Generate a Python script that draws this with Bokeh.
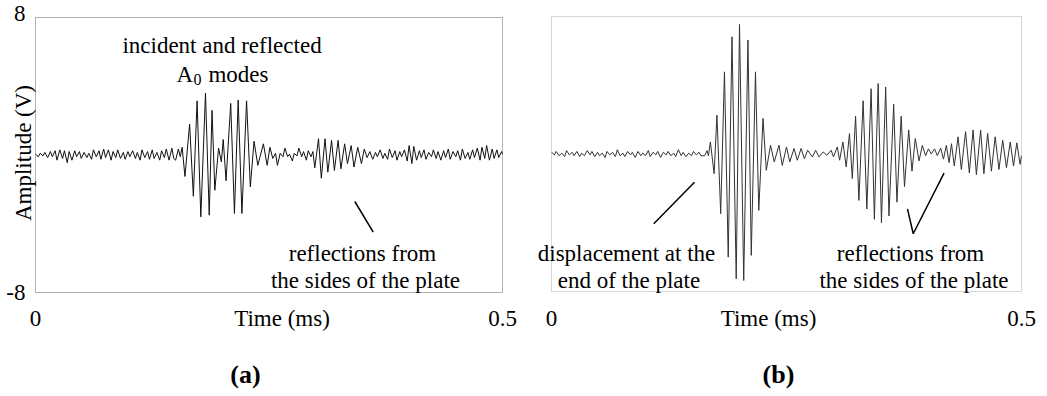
import math
from bokeh.plotting import figure
from bokeh.models import Range1d, Label, BoxAnnotation
from bokeh.layouts import row
from bokeh.embed import file_html
from bokeh.resources import INLINE

# ---------------- data (time in ms, amplitude in V) ----------------
x_ticks = [0, 0.5]
x_tick_labels = ["0", "0.5"]
y_ticks = [-8, 8]
y_tick_labels = ["-8", "8"]

# (a) incident and reflected A0 modes
trace_a = [
    (0.000, 0.05), (0.003, -0.10), (0.005, 0.10), (0.008, -0.05), (0.010, 0.15), (0.013, -0.15),
    (0.016, 0.20), (0.018, -0.10), (0.021, 0.25), (0.023, -0.30), (0.026, 0.30), (0.029, -0.20),
    (0.031, 0.25), (0.034, -0.45), (0.036, 0.20), (0.039, -0.30), (0.042, 0.25), (0.044, -0.10),
    (0.047, 0.20), (0.049, -0.20), (0.052, 0.15), (0.055, -0.15), (0.057, 0.10), (0.060, -0.25),
    (0.062, 0.30), (0.065, -0.10), (0.068, 0.25), (0.070, -0.25), (0.073, 0.35), (0.075, -0.15),
    (0.078, 0.30), (0.081, -0.30), (0.083, 0.20), (0.086, -0.15), (0.088, 0.30), (0.091, -0.20),
    (0.094, 0.15), (0.096, -0.25), (0.099, 0.20), (0.101, -0.10), (0.104, 0.25), (0.107, -0.20),
    (0.109, 0.15), (0.112, -0.30), (0.114, 0.30), (0.117, -0.15), (0.120, 0.20), (0.122, -0.25),
    (0.125, 0.30), (0.127, -0.20), (0.130, 0.15), (0.133, -0.30), (0.135, 0.25), (0.138, -0.15),
    (0.140, 0.35), (0.143, -0.30), (0.146, 0.40), (0.148, -0.20),
    (0.150, -0.30), (0.153, 0.35), (0.155, -0.10), (0.157, 0.45), (0.160, -1.25), (0.165, 1.80),
    (0.169, -2.40), (0.173, 3.15), (0.177, -3.60), (0.182, 3.60), (0.186, -3.50), (0.189, 2.60),
    (0.192, -2.05), (0.196, 0.40), (0.199, -0.40), (0.201, 0.90), (0.204, -1.50), (0.209, 3.00),
    (0.213, -3.40), (0.217, 3.20), (0.221, -3.40), (0.226, 3.15), (0.230, -1.85), (0.234, 0.80),
    (0.238, -0.60), (0.244, 0.65), (0.248, -0.60), (0.251, 0.45), (0.254, -0.20), (0.257, 0.10),
    (0.259, -0.60), (0.262, 0.10), (0.265, -0.10), (0.267, 0.40), (0.270, -0.10), (0.272, 0.05),
    (0.275, -0.35), (0.277, 0.10), (0.280, -0.05), (0.282, 0.40), (0.285, -0.10), (0.287, 0.20),
    (0.290, -0.30), (0.292, 0.25), (0.295, -0.10), (0.297, 0.20), (0.299, -0.75), (0.303, 0.95),
    (0.306, -1.35), (0.310, 0.95), (0.313, -1.00), (0.317, 0.85), (0.320, -0.90), (0.324, 0.85),
    (0.327, -0.80), (0.331, 0.65), (0.334, -0.50), (0.338, 0.55), (0.341, -0.70), (0.345, 0.45),
    (0.349, -0.50), (0.352, 0.35), (0.355, -0.15), (0.358, 0.20), (0.361, -0.25),
    (0.364, 0.15), (0.366, -0.10), (0.369, 0.30), (0.372, -0.20), (0.374, 0.10), (0.377, -0.25),
    (0.379, 0.35), (0.382, -0.15), (0.385, 0.25), (0.387, -0.30), (0.390, 0.20), (0.392, -0.10),
    (0.395, 0.30), (0.398, -0.35), (0.400, 0.55), (0.403, -0.50), (0.405, 0.50), (0.408, -0.30),
    (0.411, 0.25), (0.413, -0.15), (0.416, 0.30), (0.418, -0.25), (0.421, 0.15), (0.424, -0.10),
    (0.426, 0.30), (0.429, -0.20), (0.431, 0.20), (0.434, -0.30), (0.437, 0.25), (0.439, -0.15),
    (0.442, 0.35), (0.444, -0.25), (0.447, 0.20), (0.450, -0.10), (0.452, 0.25), (0.455, -0.30),
    (0.457, 0.35), (0.460, -0.20), (0.463, 0.15), (0.465, -0.25), (0.468, 0.30), (0.470, -0.15),
    (0.473, 0.40), (0.476, -0.30), (0.478, 0.45), (0.481, -0.20), (0.483, 0.55), (0.486, -0.30),
    (0.489, 0.35), (0.491, -0.20), (0.494, 0.30), (0.496, -0.15), (0.499, 0.20), (0.500, 0.05),
]

# (b) displacement at the end of the plate
trace_b = [
    (0.000, 0.10), (0.003, -0.05), (0.005, 0.15), (0.008, -0.10), (0.011, 0.05), (0.014, -0.15),
    (0.016, 0.20), (0.019, -0.05), (0.022, 0.10), (0.024, -0.10), (0.027, 0.15), (0.030, -0.15),
    (0.032, 0.05), (0.035, -0.10), (0.038, 0.20), (0.041, -0.05), (0.043, 0.15), (0.046, -0.15),
    (0.049, 0.10), (0.051, -0.10), (0.054, 0.05), (0.057, -0.20), (0.059, 0.15), (0.062, -0.05),
    (0.065, 0.10), (0.068, -0.15), (0.070, 0.25), (0.073, -0.10), (0.076, 0.05), (0.078, -0.15),
    (0.081, 0.15), (0.084, -0.05), (0.086, 0.10), (0.089, -0.20), (0.092, 0.15), (0.095, -0.10),
    (0.097, 0.05), (0.100, -0.10), (0.103, 0.20), (0.105, -0.15), (0.108, 0.10), (0.111, -0.05),
    (0.113, 0.15), (0.116, -0.20), (0.119, 0.10), (0.122, -0.05), (0.124, 0.15), (0.127, -0.10),
    (0.130, 0.05), (0.132, -0.15), (0.135, 0.25), (0.138, -0.10), (0.140, 0.10), (0.143, -0.15),
    (0.146, 0.05), (0.149, -0.10), (0.151, 0.15), (0.154, -0.05), (0.157, 0.10), (0.159, -0.10),
    (0.163, -0.10), (0.1655, 0.20), (0.167, -0.10), (0.169, 0.70), (0.173, -1.14), (0.176, 2.26),
    (0.180, -3.47), (0.184, 4.78), (0.188, -6.00), (0.192, 6.82), (0.1965, -7.26), (0.200, 7.54),
    (0.2045, -7.36), (0.209, 6.63), (0.2125, -5.90), (0.217, 4.78), (0.2205, -3.28), (0.225, 2.07),
    (0.2285, -0.95), (0.233, 0.51), (0.237, -0.46), (0.242, 0.51), (0.2455, -0.66), (0.250, 0.41),
    (0.2535, -0.46), (0.258, 0.32), (0.2615, -0.36), (0.2655, 0.32), (0.269, -0.27), (0.2725, 0.22),
    (0.2775, -0.17), (0.281, 0.22), (0.2845, -0.17), (0.289, 0.12), (0.293, -0.07), (0.2975, 0.22),
    (0.300, -0.17), (0.304, 0.41), (0.3065, -0.36), (0.310, 0.70), (0.3135, -0.75), (0.317, 1.19),
    (0.320, -1.43), (0.3235, 2.20), (0.327, -2.70), (0.3315, 3.10), (0.3355, -3.20), (0.340, 3.80),
    (0.3435, -3.80), (0.3475, 4.10), (0.351, -4.00), (0.3555, 3.90), (0.359, -3.60), (0.364, 2.90),
    (0.3675, -2.80), (0.372, 2.20), (0.3755, -1.90), (0.380, 1.40), (0.3835, -1.00), (0.387, 0.90),
    (0.391, -0.40), (0.3945, 0.50), (0.398, -0.10), (0.401, 0.30), (0.404, 0.00), (0.4075, 0.30),
    (0.4105, -0.10), (0.414, 0.35), (0.417, -0.30), (0.420, 0.50), (0.423, -0.50), (0.4255, 0.60),
    (0.4285, -0.70), (0.4325, 1.00), (0.436, -0.90), (0.4405, 1.30), (0.4445, -1.10), (0.4485, 1.40),
    (0.452, -1.20), (0.4565, 1.40), (0.460, -1.15), (0.464, 1.20), (0.468, -1.00), (0.472, 1.00),
    (0.476, -0.90), (0.480, 0.80), (0.484, -0.80), (0.488, 0.70), (0.4915, -0.70), (0.495, 0.65),
    (0.4985, -0.60), (0.500, -0.10),
]

FONT = "Liberation Serif"
FS = "23px"
T0, T1, V0, V1 = 0.0, 0.5, -8.0, 8.0


def panel(width, box_left, box_top, box_w, box_h, box_color):
    # the frame covers the whole canvas; the plot box sits at the given pixel offsets
    sx = box_w / (T1 - T0)
    sy = box_h / (V1 - V0)
    xr = Range1d(T0 - box_left / sx, T0 + (width - box_left) / sx)
    yr = Range1d(V1 - (396 - box_top) / sy, V1 + box_top / sy)
    p = figure(width=width, height=396, x_range=xr, y_range=yr,
               output_backend="svg", toolbar_location=None,
               x_axis_location=None, y_axis_location=None,
               min_border=0, min_border_left=0, min_border_right=0,
               min_border_top=0, min_border_bottom=0)
    p.xgrid.visible = False
    p.ygrid.visible = False
    p.outline_line_color = None
    p.background_fill_color = "white"
    p.border_fill_color = "white"
    p.add_layout(BoxAnnotation(left=T0, right=T1, bottom=V0, top=V1,
                               fill_alpha=0, line_color=box_color, line_width=1))
    return p, sx, sy


def txt(p, x, y, s, align="center", size=FS, bold=False, angle=0.0, baseline="alphabetic", color="black"):
    p.add_layout(Label(x=x, y=y, text=s, text_font=FONT, text_font_size=size,
                       text_align=align, text_baseline=baseline, angle=angle,
                       text_color=color, text_font_style="bold" if bold else "normal"))


# ---------------- panel (a) ----------------
pa, sxa, sya = panel(523, 35, 17, 467, 275, "black")
pa.line([t for t, v in trace_a], [v for t, v in trace_a], line_color="#111111", line_width=1)
for tv, tl in zip(y_ticks, y_tick_labels):
    txt(pa, T0 - 10 / sxa, tv + (4 / sya if tv > 0 else 0), tl, align="right", baseline="middle")
for tv, tl in zip(x_ticks, x_tick_labels):
    txt(pa, tv, -9.513, tl)
txt(pa, 0.1997, 6.37, "incident and reflected")
txt(pa, 0.1510, 4.683, "A", align="left")
txt(pa, 0.1692, 4.40, "0", align="left", size="16px")
txt(pa, 0.1852, 4.683, "modes", align="left")
txt(pa, 0.3501, -5.73, "reflections from")
txt(pa, 0.3533, -7.30, "the sides of the plate")
pa.line([0.3419, 0.3616], [-2.705, -4.491], line_color="black", line_width=1.5)
txt(pa, -0.01285, 0.116, "Amplitude (V)", angle=math.pi / 2, baseline="middle")
txt(pa, 0.2639, -9.513, "Time (ms)")
txt(pa, 0.2248, -12.75, "(a)", size="26px", bold=True)

# ---------------- panel (b) ----------------
pb, sxb, syb = panel(524, 28, 16, 470, 275, "#777777")
pb.line([t for t, v in trace_b], [v for t, v in trace_b], line_color="#333333", line_width=1)
for tv, tl in zip(x_ticks, x_tick_labels):
    txt(pb, tv, -9.571, tl)
txt(pb, 0.0798, -5.788, "displacement at the")
txt(pb, 0.0824, -7.359, "end of the plate")
pb.line([0.1088, 0.1521], [-4.061, -1.640], line_color="black", line_width=1.5)
txt(pb, 0.3819, -5.788, "reflections from")
txt(pb, 0.3856, -7.359, "the sides of the plate")
pb.line([0.3787, 0.3848, 0.4176], [-3.188, -4.642, -1.117], line_color="black", line_width=1.5)
txt(pb, 0.2309, -9.571, "Time (ms)")
txt(pb, 0.2415, -12.81, "(b)", size="26px", bold=True)

layout = row(pa, pb)
open("out.html", "w").write(file_html(layout, INLINE))
